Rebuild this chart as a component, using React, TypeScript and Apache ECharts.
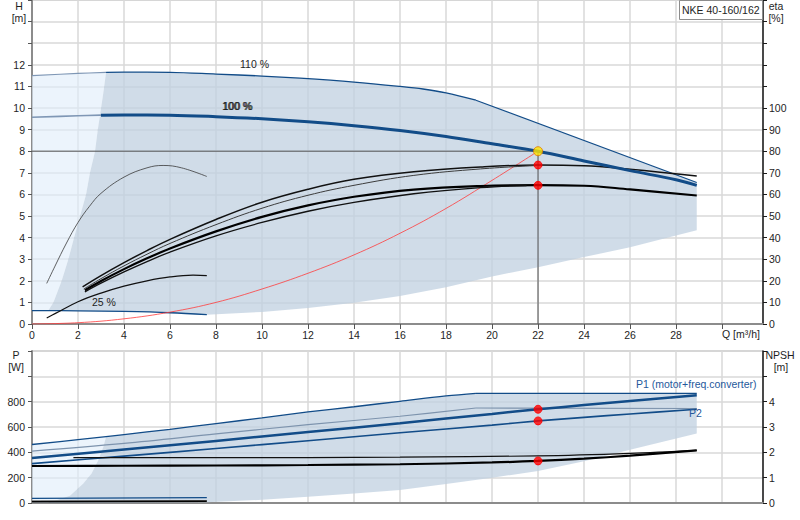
import React, { useEffect, useRef } from "react";
import * as echarts from "echarts";

const FONT = '"Liberation Sans", Arial, sans-serif';
const FONT_SIZE = 10.5;
const BLUE = "#124c88";
const GREY_BLUE = "#7f97b5";

// ---------- upper chart: head H [m] vs Q [m3/h] ----------
const H110_CURVE = [[0, 11.5], [2, 11.6], [3.22, 11.65], [4, 11.66], [6, 11.65], [8, 11.57], [10, 11.48], [11.65, 11.38], [14, 11.2], [16, 11.0], [17, 10.88], [18, 10.7], [19.3, 10.36]];
const H110_LIMIT = [[19.3, 10.36], [28.9, 6.55]];
const H100 = [[0, 9.57], [2, 9.64], [3, 9.67], [4, 9.68], [6, 9.67], [8, 9.6], [10, 9.5], [12, 9.36], [14, 9.18], [16, 8.96], [18, 8.68], [20, 8.34], [22, 8.0], [24, 7.55], [26, 7.1], [28, 6.68], [28.9, 6.42]];
const H25 = [[0, 0.62], [2, 0.61], [4, 0.58], [6, 0.52], [7.6, 0.43]];
const MINFLOW_H = [[0.71, 0.62], [0.93, 1], [1.29, 2], [1.58, 3], [1.83, 4], [2.09, 5], [2.35, 6], [2.52, 7], [2.74, 8], [2.86, 9], [2.96, 9.7], [3.1, 10.7], [3.22, 11.65]];
const LOWER_H = [[7.6, 0.43], [10, 0.56], [12, 0.74], [14, 0.98], [16, 1.3], [18, 1.7], [20, 2.2], [22, 2.63], [24, 3.1], [26, 3.55], [28, 4.1], [28.9, 4.34]];
const SYSTEM_H = [[0, 0], [2, 0.06], [4, 0.24], [6, 0.55], [8, 1.0], [10, 1.62], [12, 2.35], [14, 3.2], [16, 4.2], [18, 5.35], [20, 6.65], [22, 8.0]];
const DUTY = [[22, 8.0]];

// efficiency eta [%]
const ETA_A = [[2.2, 17.2], [3, 22.4], [4, 28.4], [5, 34.0], [6, 39.2], [8, 48.4], [10, 56.4], [12, 62.4], [14, 67.0], [16.6, 70.5], [19.5, 72.7], [22, 73.6], [24, 73.3], [26, 71.6], [28.9, 68.5]];
const ETA_B = [[2.25, 16.2], [3, 21.0], [4, 26.9], [5, 32.3], [6, 37.3], [8, 46.0], [10, 53.6], [12, 59.6], [14, 64.2], [16.6, 68.8], [19.5, 71.8], [22, 73.4]];
const ETA_C = [[2.3, 15.6], [3, 19.9], [4, 25.4], [5, 30.4], [6, 35.0], [8, 42.9], [10, 49.6], [12, 54.9], [14, 58.9], [16.6, 62.2], [19.5, 63.9], [22, 64.3], [24, 64.0], [26, 62.3], [28.9, 59.5]];
const ETA_D = [[2.3, 14.9], [3, 18.9], [4, 24.1], [5, 28.9], [6, 33.3], [8, 40.8], [10, 47.0], [12, 52.2], [14, 56.3], [16.6, 60.3], [19.5, 63.1], [21.5, 64.1]];
const ETA_MIN_HIGH = [[0.64, 18.8], [1, 26.8], [1.5, 37.5], [2, 47], [2.5, 54.5], [3, 60.5], [4, 68], [5, 72.3], [5.7, 73.4], [6.5, 72.3], [7.6, 68.3]];
const ETA_MIN_LOW = [[0.64, 2.8], [1, 4.8], [2, 10.3], [3, 14.3], [4, 17.5], [5, 20], [6, 21.8], [7, 22.6], [7.6, 22.4]];
const ETA_DUTY = [[22, 73.6], [22, 64.2]];

// ---------- lower chart: power P [W] and NPSH [m] ----------
const P1_110 = [[0, 462], [2, 500], [3.22, 524], [4, 540], [6, 582], [8, 627], [10, 672], [12, 719], [14, 760], [16, 803], [18, 845], [19.3, 866]];
const P1_110_LIMIT = [[19.3, 866], [28.9, 866]];
const P2_110 = [[0, 409], [4, 470], [8, 545], [12, 618], [16, 685], [19.3, 750]];
const P2_110_LIMIT = [[19.3, 750], [28.9, 746]];
const P1_100 = [[0, 356], [4, 422], [8, 490], [12, 560], [16, 630], [20, 703], [22, 740], [24, 773], [26, 805], [28.9, 850]];
const P2_100 = [[0, 311], [4, 370], [8, 430], [12, 492], [16, 554], [20, 615], [22, 648], [24, 676], [26, 703], [28.9, 740]];
const P1_25 = [[0, 37], [7.6, 42]];
const P2_25 = [[0, 16], [7.6, 19]];
const MINFLOW_P = [[0.7, 0], [0.78, 5], [1.65, 58], [2.23, 153], [2.59, 232], [2.88, 338], [3.1, 443], [3.22, 524]];
const LOWER_P = [[7.6, 5], [10, 25], [12, 50], [14, 75], [16, 102], [18, 150], [20, 200], [22, 252], [24, 330], [26, 420], [28.9, 548]];
const P_DUTY = [[22, 740], [22, 648]];
const NPSH_MAIN = [[0, 1.46], [4, 1.47], [8, 1.48], [12, 1.5], [16, 1.53], [20, 1.6], [22, 1.66], [24, 1.75], [26, 1.87], [28.9, 2.08]];
const NPSH_UPPER = [[1.8, 1.79], [8, 1.79], [16, 1.81], [22, 1.86], [26, 1.96], [28.9, 2.08]];
const NPSH_25 = [[0, 0.05], [7.6, 0.07]];
const NPSH_DUTY = [[22, 1.66]];

const Q_TICK_STEP = 2;

function poly(pts: number[][], fill: string, xi: number, yi: number) {
  return {
    type: "custom",
    xAxisIndex: xi,
    yAxisIndex: yi,
    silent: true,
    z: 1,
    clip: true,
    data: [pts[0]],
    renderItem: (_p: any, api: any) => ({
      type: "polygon",
      shape: { points: pts.map((p) => api.coord(p)) },
      style: { fill },
    }),
  };
}

function line(data: number[][], color: string, width: number, xi: number, yi: number, smooth: any = 0.35, z = 3) {
  return {
    type: "line",
    data,
    xAxisIndex: xi,
    yAxisIndex: yi,
    symbol: "none",
    showSymbol: false,
    smooth,
    silent: true,
    z,
    lineStyle: { color, width },
  };
}

function dots(data: number[][], xi: number, yi: number, color: string, border: string, size: number) {
  return {
    type: "scatter",
    data,
    xAxisIndex: xi,
    yAxisIndex: yi,
    symbol: "circle",
    symbolSize: size,
    silent: true,
    z: 6,
    itemStyle: { color, borderColor: border, borderWidth: 1 },
  };
}

function txt(text: string, x: number, y: number, align = "left", fill = "#1e1e1e") {
  return {
    type: "text",
    x,
    y,
    z: 100,
    silent: true,
    style: {
      text,
      fill,
      font: `${FONT_SIZE}px ${FONT}`,
      align,
      verticalAlign: "middle",
      textAlign: align,
      textVerticalAlign: "middle",
    },
  };
}

function buildOption() {
  const topMain = [
    ...MINFLOW_H,
    ...H110_CURVE.filter((p) => p[0] > 3.22),
    H110_LIMIT[1],
    ...LOWER_H.slice().reverse(),
    ...H25.filter((p) => p[0] < 7.6 && p[0] > 0.71).reverse(),
  ];
  const topLight = [
    [0, H25[0][1]],
    ...H110_CURVE.filter((p) => p[0] <= 3.22),
    ...MINFLOW_H.slice().reverse(),
  ];
  const botMain = [
    ...MINFLOW_P,
    ...P1_110.filter((p) => p[0] > 3.22),
    P1_110_LIMIT[1],
    ...LOWER_P.slice().reverse(),
  ];
  const botLight = [
    [0, 0],
    ...P1_110.filter((p) => p[0] <= 3.22),
    ...MINFLOW_P.slice().reverse(),
  ];

  const axisLabel = { color: "#1e1e1e", fontSize: FONT_SIZE, fontFamily: FONT };
  const split = { show: true, lineStyle: { color: "#d9d9d9", width: 1.5 } };
  const greyAxis = { show: true, lineStyle: { color: "#8c8c8c", width: 2 } };
  const darkAxis = { show: true, lineStyle: { color: "#1a1a1a", width: 1.5 } };

  const xCommon = {
    type: "value",
    min: 0,
    max: 31.78,
    interval: Q_TICK_STEP,
    splitLine: split,
    axisLine: greyAxis,
  };

  return {
    animation: false,
    backgroundColor: "#ffffff",
    textStyle: { fontFamily: FONT },
    grid: [
      { left: 32, top: 0, width: 731, height: 324, show: true, borderColor: "#a0a0a0", borderWidth: 1 },
      { left: 32, top: 351, width: 731, height: 152, show: true, borderColor: "#a0a0a0", borderWidth: 1 },
    ],
    xAxis: [
      {
        ...xCommon,
        gridIndex: 0,
        axisTick: { show: true, length: 5, lineStyle: { color: "#555" } },
        axisLabel: { ...axisLabel, margin: 5, showMaxLabel: false, formatter: (v: number) => (v >= 30 ? "" : String(v)) },
      },
      {
        ...xCommon,
        gridIndex: 1,
        axisTick: { show: false },
        axisLabel: { show: false },
      },
    ],
    yAxis: [
      {
        type: "value", gridIndex: 0, position: "left", min: 0, max: 15, interval: 1,
        axisLine: greyAxis, splitLine: split,
        axisTick: { show: true, length: 4, lineStyle: { color: "#555" } },
        axisLabel: { ...axisLabel, margin: 7, formatter: (v: number) => (v <= 12 ? String(v) : "") },
      },
      {
        type: "value", gridIndex: 0, position: "right", min: 0, max: 150, interval: 10,
        axisLine: darkAxis, splitLine: { show: false },
        axisTick: { show: true, length: 4, lineStyle: { color: "#1a1a1a" } },
        axisLabel: { ...axisLabel, margin: 6, formatter: (v: number) => (v <= 100 ? String(v) : "") },
      },
      {
        type: "value", gridIndex: 1, position: "left", min: 0, max: 1200, interval: 200,
        axisLine: greyAxis, splitLine: split,
        axisTick: { show: true, length: 4, lineStyle: { color: "#555" } },
        axisLabel: { ...axisLabel, margin: 7, formatter: (v: number) => (v <= 800 ? String(v) : "") },
      },
      {
        type: "value", gridIndex: 1, position: "right", min: 0, max: 6, interval: 1,
        axisLine: darkAxis, splitLine: { show: false },
        axisTick: { show: true, length: 4, lineStyle: { color: "#1a1a1a" } },
        axisLabel: { ...axisLabel, margin: 6, formatter: (v: number) => (v <= 4 ? String(v) : "") },
      },
    ],
    series: [
      // shaded operating ranges
      poly(topLight, "rgba(225,238,250,0.62)", 0, 0),
      poly(topMain, "rgba(192,208,224,0.75)", 0, 0),
      poly(botLight, "rgba(225,238,250,0.62)", 1, 2),
      poly(botMain, "rgba(192,208,224,0.75)", 1, 2),

      // head curves
      line(H110_CURVE.filter((p) => p[0] <= 3.22), GREY_BLUE, 1.2, 0, 0),
      line(H110_CURVE.filter((p) => p[0] >= 3.22), BLUE, 1.3, 0, 0),
      line(H110_LIMIT, BLUE, 1.2, 0, 0, false),
      line(H100.filter((p) => p[0] <= 3), GREY_BLUE, 1.6, 0, 0),
      line(H100.filter((p) => p[0] >= 3), BLUE, 3, 0, 0, 0.35, 4),
      line(H25, BLUE, 1.3, 0, 0),
      line(SYSTEM_H, "#ff3b3b", 0.8, 0, 0, 0.4),
      line([[0, 8], [22, 8]], "#555555", 1, 0, 0, false, 2),
      line([[22, 0], [22, 8]], "#555555", 1, 0, 0, false, 2),

      // efficiency curves
      line(ETA_MIN_HIGH, "#3a3a3a", 0.8, 0, 1, 0.4),
      line(ETA_MIN_LOW, "#111111", 1.2, 0, 1, 0.4),
      line(ETA_A, "#111111", 1.5, 0, 1, 0.4),
      line(ETA_B, "#3c3c3c", 1, 0, 1, 0.4),
      line(ETA_C, "#000000", 2.2, 0, 1, 0.4),
      line(ETA_D, "#111111", 1.3, 0, 1, 0.4),

      dots(DUTY, 0, 0, "#ffe600", "#e07800", 9),
      dots(ETA_DUTY, 0, 1, "#ff0000", "#ff0000", 8),

      // power curves
      line(P1_110, BLUE, 1.3, 1, 2),
      line(P1_110_LIMIT, BLUE, 1.3, 1, 2, false),
      line(P2_110, "#7d93ad", 1.2, 1, 2),
      line(P2_110_LIMIT, "#7d93ad", 1.2, 1, 2, false),
      line(P1_100, BLUE, 2.5, 1, 2, 0.3, 4),
      line(P2_100, BLUE, 1.6, 1, 2),
      line(P1_25, BLUE, 1.3, 1, 2, false),
      line(P2_25, "#6e6e6e", 1.3, 1, 2, false),

      // NPSH curves
      line(NPSH_UPPER, "#111111", 1.2, 1, 3),
      line(NPSH_MAIN, "#000000", 2.2, 1, 3),
      line(NPSH_25, "#000000", 1.6, 1, 3, false),

      dots(P_DUTY, 1, 2, "#ff0000", "#ff0000", 8),
      dots(NPSH_DUTY, 1, 3, "#ff0000", "#ff0000", 8),
    ],
    graphic: [
      { type: "rect", z: 99, silent: true, shape: { x: 679.5, y: 0.5, width: 83, height: 19 }, style: { fill: "#ffffff", stroke: "#8c8c8c", lineWidth: 1 } },
      txt("NKE 40-160/162", 682, 10),
      txt("H", 19, 6, "center"),
      txt("[m]", 19, 18, "center"),
      txt("eta", 776, 6, "center"),
      txt("[%]", 776, 18, "center"),
      txt("Q [m³/h]", 722, 334),
      txt("P", 16, 355, "center"),
      txt("[W]", 16, 367, "center"),
      txt("NPSH", 780, 355, "center"),
      txt("[m]", 781, 367, "center"),
      txt("110 %", 240, 64),
      txt("100 %", 222, 106),
      txt("100 %", 223, 106),
      txt("25 %", 92, 302),
      txt("P1 (motor+freq.converter)", 636, 384, "left", "#25589b"),
      txt("P2", 689, 413, "left", "#25589b"),
    ],
  };
}

export default function App() {
  const ref = useRef<HTMLDivElement>(null);
  useEffect(() => {
    document.body.style.margin = "0";
    const chart = echarts.init(ref.current as HTMLDivElement, null, { renderer: "svg" });
    chart.setOption(buildOption() as any);
    return () => chart.dispose();
  }, []);
  return <div ref={ref} style={{ width: 800, height: 520 }} />;
}
